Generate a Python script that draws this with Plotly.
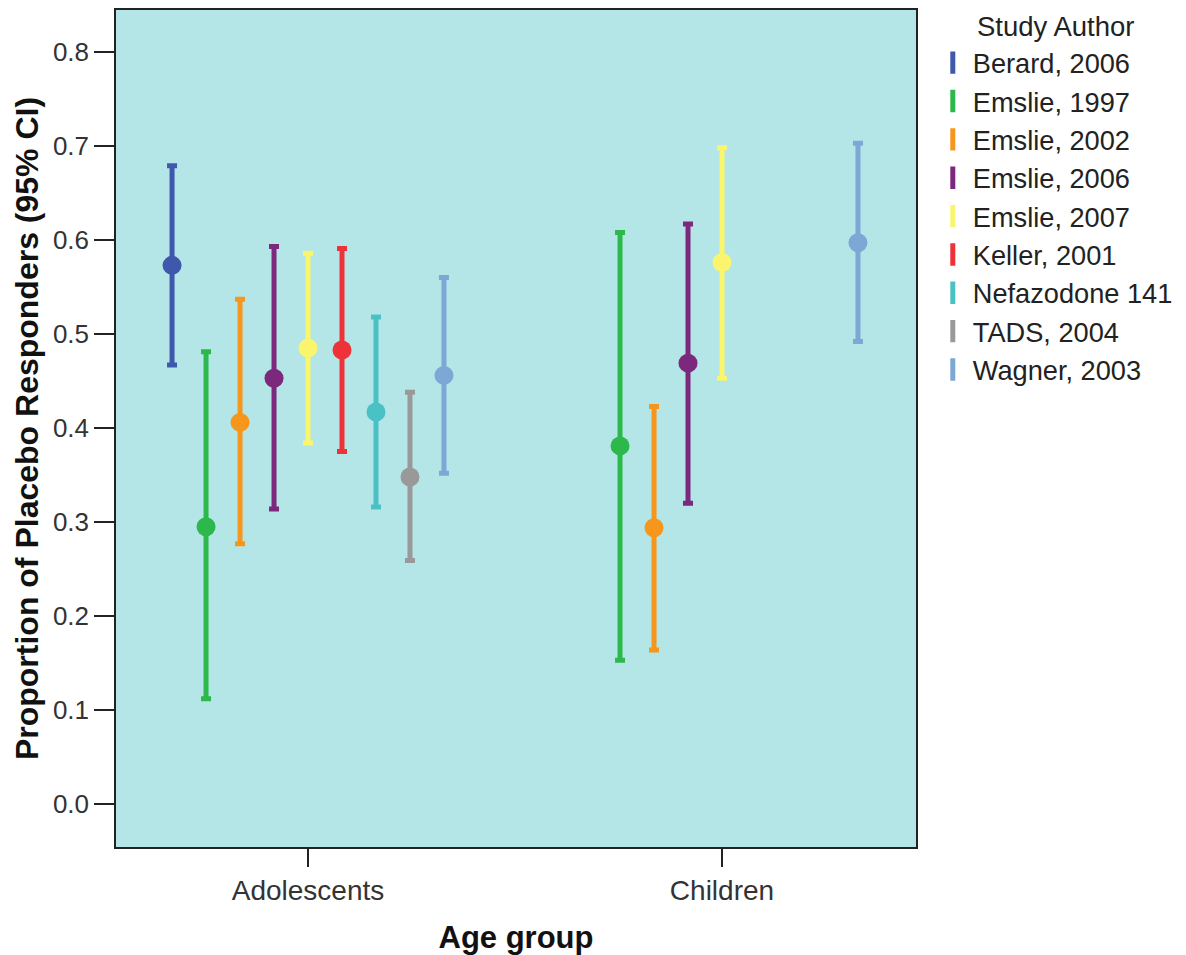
import plotly.graph_objects as go

groups = ["Adolescents", "Children"]
studies = ["Berard, 2006", "Emslie, 1997", "Emslie, 2002", "Emslie, 2006", "Emslie, 2007",
           "Keller, 2001", "Nefazodone 141", "TADS, 2004", "Wagner, 2003"]
colors = ["#3F58AC", "#2DB84B", "#F7961D", "#7B287D", "#FAF56C",
          "#EE3338", "#4AC2C5", "#999999", "#7CA8D6"]

# per study: values for [Adolescents, Children]; None = no data
mean_vals = {
    "Berard, 2006":   [0.573, None],
    "Emslie, 1997":   [0.295, 0.381],
    "Emslie, 2002":   [0.406, 0.294],
    "Emslie, 2006":   [0.453, 0.469],
    "Emslie, 2007":   [0.485, 0.576],
    "Keller, 2001":   [0.483, None],
    "Nefazodone 141": [0.417, None],
    "TADS, 2004":     [0.348, None],
    "Wagner, 2003":   [0.456, 0.597],
}
upper_vals = {
    "Berard, 2006":   [0.679, None],
    "Emslie, 1997":   [0.481, 0.608],
    "Emslie, 2002":   [0.537, 0.423],
    "Emslie, 2006":   [0.593, 0.617],
    "Emslie, 2007":   [0.586, 0.698],
    "Keller, 2001":   [0.591, None],
    "Nefazodone 141": [0.518, None],
    "TADS, 2004":     [0.438, None],
    "Wagner, 2003":   [0.560, 0.703],
}
lower_vals = {
    "Berard, 2006":   [0.467, None],
    "Emslie, 1997":   [0.112, 0.153],
    "Emslie, 2002":   [0.277, 0.164],
    "Emslie, 2006":   [0.314, 0.320],
    "Emslie, 2007":   [0.384, 0.453],
    "Keller, 2001":   [0.375, None],
    "Nefazodone 141": [0.316, None],
    "TADS, 2004":     [0.259, None],
    "Wagner, 2003":   [0.352, 0.492],
}

dodge = 0.0821
fig = go.Figure()
n = len(studies)
for i, s in enumerate(studies):
    xs, ys, up, dn = [], [], [], []
    for g in range(len(groups)):
        m = mean_vals[s][g]
        if m is None:
            continue
        xs.append(g + (i - (n - 1) / 2) * dodge)
        ys.append(m)
        up.append(upper_vals[s][g] - m)
        dn.append(m - lower_vals[s][g])
    fig.add_trace(go.Scatter(
        x=xs, y=ys, mode="markers", name=s, showlegend=False,
        marker=dict(color=colors[i], size=19, line=dict(width=0)),
        error_y=dict(type="data", symmetric=False, array=up, arrayminus=dn,
                     color=colors[i], thickness=5, width=5),
    ))
    # legend entry
    fig.add_trace(go.Scatter(
        x=[None], y=[None], mode="markers", name=s, showlegend=True,
        marker=dict(symbol="line-ns", size=27, color=colors[i],
                    line=dict(color=colors[i], width=5)),
    ))

FONT = "Liberation Sans, Arial, sans-serif"
fig.update_layout(
    width=1186, height=955,
    margin=dict(l=108, r=278, t=0, b=116),
    paper_bgcolor="white",
    plot_bgcolor="#B4E6E7",
    font=dict(family=FONT, color="#222222"),
    legend=dict(
        font=dict(size=27.2, color="#222222"),
        x=1.021, y=0.966, xanchor="left", yanchor="top",
        tracegroupgap=0, itemwidth=30,
        bgcolor="rgba(0,0,0,0)",
    ),
    annotations=[dict(
        text="Study Author", xref="paper", yref="paper",
        x=1.0738, y=0.9797, xanchor="left", yanchor="middle",
        showarrow=False, font=dict(size=27.5, color="#222222", family=FONT),
    )],
)
fig.update_xaxes(
    range=[-0.4638, 1.4686],
    tickvals=list(range(len(groups))), ticktext=groups,
    ticks="outside", ticklen=18, tickwidth=1.5, tickcolor="#222222",
    tickfont=dict(size=28, color="#333333"),
    showgrid=False, zeroline=False,
    showline=True, linecolor="#222222", linewidth=1.5, mirror=True,
    title=dict(text="<b>Age group</b>", font=dict(size=31, color="#111111"), standoff=21),
)
fig.update_yaxes(
    range=[-0.0456, 0.8446],
    tickvals=[0.0, 0.1, 0.2, 0.3, 0.4, 0.5, 0.6, 0.7, 0.8], tickformat=".1f",
    ticks="outside", ticklen=20, tickwidth=1.5, tickcolor="#222222",
    tickfont=dict(size=26, color="#333333"),
    showgrid=False, zeroline=False,
    showline=True, linecolor="#222222", linewidth=1.5, mirror=True,
    title=dict(text="<b>Proportion of Placebo Responders (95% CI)</b>",
               font=dict(size=32, color="#111111"), standoff=5),
)

fig.write_html("out.html")
